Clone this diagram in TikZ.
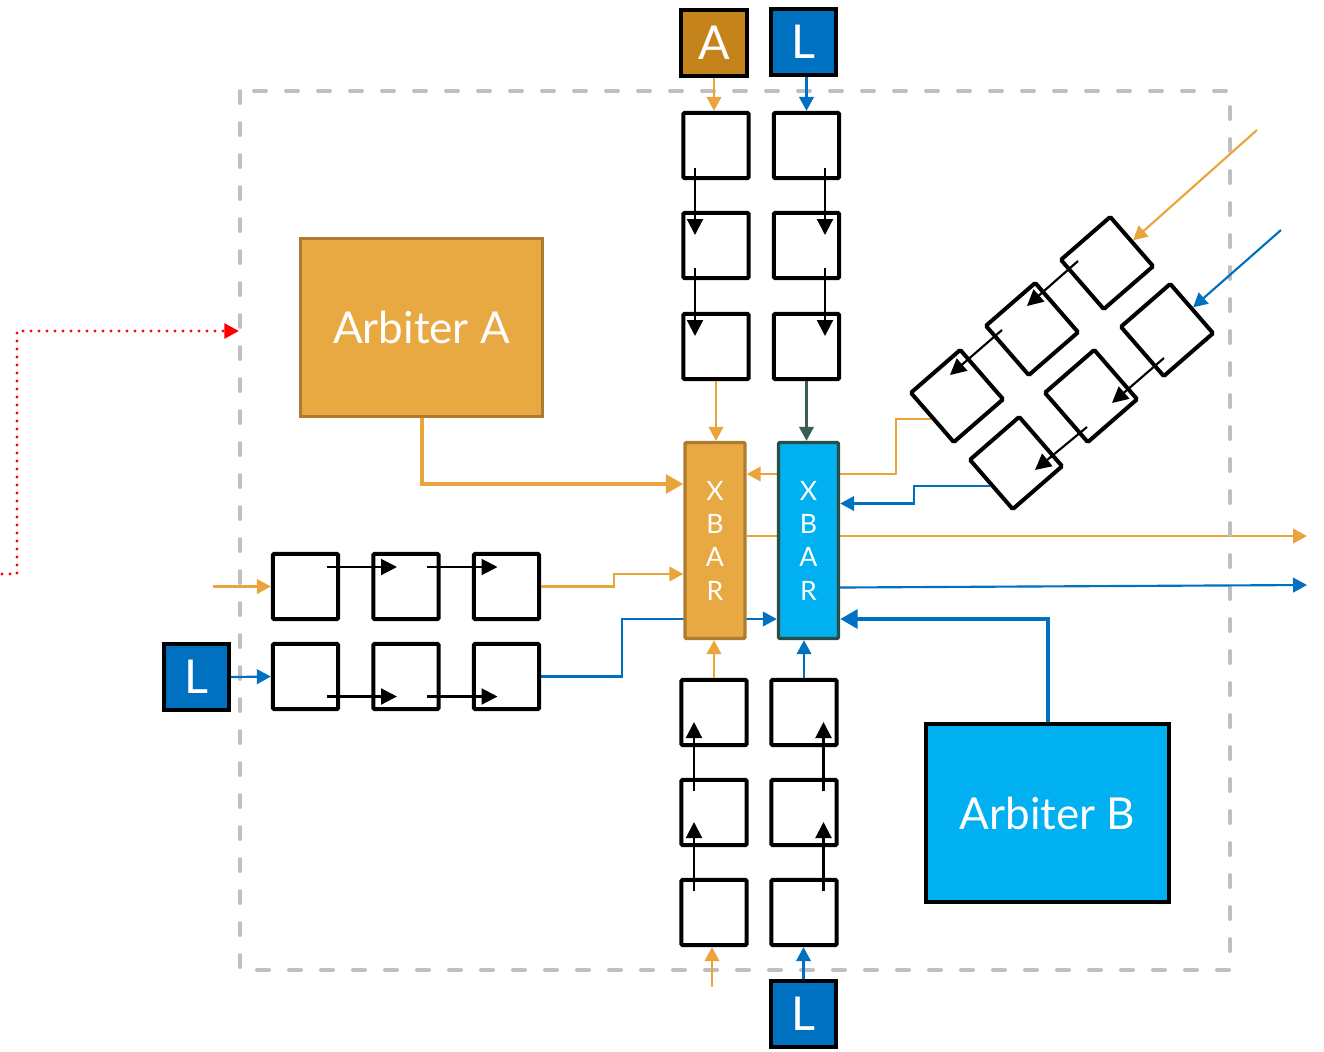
\documentclass[tikz,border=0pt]{standalone}
\usepackage{fontspec}
\setmainfont{Lato}
\usepackage{tikz}
\usetikzlibrary{positioning,arrows.meta,calc,backgrounds}
\definecolor{orng}{HTML}{E9A43C}
\definecolor{lblue}{HTML}{0070C0}
\definecolor{arbfill}{HTML}{E8A842}
\definecolor{arbedge}{HTML}{AD7C30}
\definecolor{cyanfill}{HTML}{00B0F0}
\definecolor{xbedge}{HTML}{2A4F44}
\definecolor{xbline}{HTML}{3A5F52}
\definecolor{abox}{HTML}{C5831B}
\definecolor{framegray}{HTML}{BFBFBF}

\begin{document}
\begin{tikzpicture}[x=0.75pt,y=-0.75pt,
  >={Triangle[length=10.5pt,width=11pt]},
  buf/.style={draw,line width=3pt,rounded corners=1pt,minimum size=49pt,inner sep=0pt},
  port/.style={draw,line width=3pt,minimum size=49pt,inner sep=0pt,text=white,font=\fontsize{35}{40}\selectfont},
  arb/.style={minimum width=182pt,minimum height=133.5pt,text=white,font=\fontsize{33}{40}\selectfont},
  xbar/.style={minimum width=45pt,minimum height=147pt,line width=2.6pt,rounded corners=1pt,text=white,align=center,font=\fontsize{20}{25}\selectfont},
  flow/.style={->,line width=1.6pt},
  hop/.style={line width=1.6pt,-{Triangle[length=12pt,width=12pt]}},
  thick link/.style={line width=3pt,-{Triangle[length=13pt,width=14pt]}}
]
\useasboundingbox (0,0) rectangle (1324,1051);
\draw[framegray,line width=3pt,dash pattern=on 9pt off 15pt,line cap=round] (240,91) rectangle (1230,970);

\node[port,fill=abox] (topA) at (714,43) {A};
\node[port,fill=lblue] (topL) at (803.5,42) {L};
\node[port,fill=lblue] (leftL) at (196.5,677) {L};
\node[port,fill=lblue] (botL) at (803.5,1014) {L};

\foreach \i/\y in {1/145.5,2/245.5,3/346.5} {
  \node[buf] (ta\i) at (716,\y) {};
  \node[buf] (tl\i) at (806.5,\y) {};
}
\foreach \i/\y in {1/712.5,2/812.5,3/912.5} {
  \node[buf] (ba\i) at (714,\y) {};
  \node[buf] (bl\i) at (804,\y) {};
}
\foreach \i/\x in {1/305.5,2/406,3/506.5} {
  \node[buf] (ra\i) at (\x,586.5) {};
  \node[buf] (rl\i) at (\x,676.5) {};
}
\node[buf,rotate=41] (da1) at (1107,263) {};
\node[buf,rotate=41] (da2) at (1032,329) {};
\node[buf,rotate=41] (da3) at (957,396) {};
\node[buf,rotate=41] (db1) at (1167,330) {};
\node[buf,rotate=41] (db2) at (1091,396) {};
\node[buf,rotate=41] (db3) at (1016,463) {};

\node[arb,draw=arbedge,line width=2.25pt,fill=arbfill] (arbA) at (421.5,327) {Arbiter A};
\node[arb,draw,line width=3pt,fill=cyanfill] (arbB) at (1047.5,813) {Arbiter B};
\node[xbar,draw=arbedge,fill=arbfill] (xa) at (715,540.5) {X\\B\\A\\R};
\node[xbar,draw=xbedge,fill=cyanfill] (xb) at (808.5,540.5) {X\\B\\A\\R};

\foreach \i/\j in {1/2,2/3} {
  \draw[hop] ($(ta\i)+(-21,22.5)$) -- ($(ta\j)+(-21,-10.5)$);
  \draw[hop] ($(tl\i)+(18.5,22.5)$) -- ($(tl\j)+(18.5,-10.5)$);
  \draw[hop] ($(ba\j)+(-20,-21.5)$) -- ($(ba\i)+(-20,9.5)$);
  \draw[hop] ($(bl\j)+(19.5,-21.5)$) -- ($(bl\i)+(19.5,9.5)$);
  \draw[hop] ($(ra\i)+(21,-19.5)$) -- ($(ra\j)+(-9,-19.5)$);
  \draw[hop] ($(rl\i)+(21,20)$) -- ($(rl\j)+(-9,20)$);
}
\draw[hop] ($(da1)+(-29,-2)$) -- ($(da2)+(-5,-23)$);
\draw[hop] ($(da2)+(-30,1)$) -- ($(da3)+(-7,-21)$);
\draw[hop] ($(db1)+(-3,28)$) -- ($(db2)+(21,7)$);
\draw[hop] ($(db2)+(-4,31)$) -- ($(db3)+(19,7)$);

\coordinate (inA) at (213,586.5);
\coordinate (inB) at (712,987);
\coordinate (inC) at (1257,130);
\coordinate (inD) at (1281,230);
\coordinate (outA) at (1307,536);
\coordinate (outB) at (1307,585);
\coordinate (dbg) at (2,574);
\coordinate (dbgIn) at (239,331);

\draw[flow,orng] (topA.south) -- (topA.south |- ta1.north);
\draw[flow,lblue] (tl1.north |- topL.south) -- (tl1.north);
\draw[flow,orng] (inA) -- (ra1.west);
\draw[flow,lblue] (leftL.east) -- (rl1.west);
\draw[flow,orng] (inB) -- (inB |- ba3.south);
\draw[flow,lblue] (botL.north) -- (botL.north |- bl3.south);
\draw[flow,orng] (inC) -- (da1.east);
\draw[flow,lblue] (inD) -- (db1.east);

\draw[flow,orng] (ta3.south) -- (ta3.south |- xa.north);
\draw[flow,xbline] (tl3.south) -- (tl3.south |- xb.north);
\draw[flow,orng] (ba1.north) -- (ba1.north |- xa.south);
\draw[flow,lblue] (bl1.north) -- (bl1.north |- xb.south);
\draw[flow,orng] (ra3.east) -- ++(73,0) |- ($(xa.west)+(0,33.5)$);
\draw[flow,lblue] (db3.west) -- ++(-76,0) |- ($(xb.east)+(0,-37)$);
\draw[thick link,orng] (arbA.south) |- ($(xa.west)+(0,-56.5)$);
\draw[thick link,lblue] (arbB.north) |- ($(xb.east)+(0,78.5)$);
\draw[flow,lblue] ($(xb.east)+(0,47)$) -- (outB);
\begin{pgfonlayer}{background}
\draw[flow,lblue] (rl3.east) -- ++(81,0) |- ($(xb.west)+(0,78.5)$);
\draw[flow,orng] (da3.west) -- ++(-35,0) |- ($(xa.east)+(0,-66.5)$);
\draw[flow,orng] ($(xa.east)+(0,-4.5)$) -- (outA);
\end{pgfonlayer}

\draw[red,line width=2.6pt,dash pattern=on 0pt off 6pt,line cap=round,-{Triangle[length=11pt,width=11pt]}] (dbg) -- ++(15,0) |- (dbgIn);
\end{tikzpicture}
\end{document}
